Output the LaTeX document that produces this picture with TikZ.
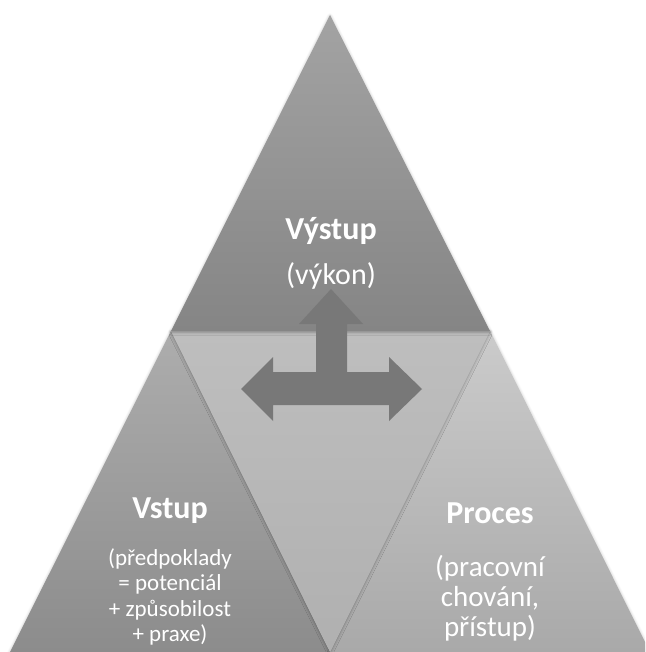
\documentclass[tikz,border=0pt]{standalone}
\usepackage{fontspec}
\setmainfont{Carlito}
\usetikzlibrary{shadows.blur}
\definecolor{topHi}{HTML}{A3A3A3}
\definecolor{topLo}{HTML}{858585}
\definecolor{leftHi}{HTML}{ADADAD}
\definecolor{leftLo}{HTML}{8C8C8C}
\definecolor{midHi}{HTML}{BEBEBE}
\definecolor{midLo}{HTML}{B0B0B0}
\definecolor{rightHi}{HTML}{CBCBCB}
\definecolor{rightLo}{HTML}{A9A9A9}
\definecolor{arrowGrey}{HTML}{787878}
\begin{document}
\begin{tikzpicture}
  [
    x=1pt, y=-1pt,
    piece/.style 2 args =
      {top color=#1, bottom color=#2,
       blur shadow={shadow xshift=0pt, shadow yshift=-1pt,
                    shadow blur radius=3pt, shadow opacity=30}},
    title/.style =
      {text=white, align=center, font=\bfseries\fontsize{32}{38}\selectfont},
    note/.style 2 args =
      {text=white, align=center, font=\fontsize{#1}{#2}\selectfont}
  ]
  \useasboundingbox (0,0) rectangle (645,652);
  \clip (0,0) rectangle (645,652);

  % the four parts of the pyramid
  \path [piece={leftHi}{leftLo}]   (171,331) -- (10,652)  -- (330,652) -- cycle;
  \path [piece={rightHi}{rightLo}] (490,331) -- (330,652) -- (650,652) -- cycle;
  \path [piece={midHi}{midLo}]     (171,331) -- (490,331) -- (330,652) -- cycle;
  \path [piece={topHi}{topLo}]     (330,15)  -- (490,331) -- (171,331) -- cycle;

  % the arrow in the middle
  \fill [arrowGrey]
    (331,289) -- (363,324) -- (347,324) -- (347,372) -- (389,372) -- (389,357)
    -- (422,389) -- (389,421) -- (389,405) -- (273,405) -- (273,421)
    -- (241,389) -- (273,357) -- (273,372) -- (316,372) -- (316,324)
    -- (299,324) -- cycle;

  \node [title, anchor=base]            at (331,239) (outT) {Výstup};
  \node [note={30}{34}, anchor=base]    at (331,284) (outN) {(výkon)};
  \node [title, anchor=base]            at (170,518) (inT)  {Vstup};
  \node [note={23}{25.5}, anchor=north] at (170,545) (inN)
    {(předpoklady\\= potenciál\\+ způsobilost\\+ praxe)};
  \node [title, anchor=base]            at (490,523) (prT)  {Proces};
  \node [note={29}{30}, anchor=north]   at (490,552) (prN)
    {(pracovní\\chování,\\přístup)};
\end{tikzpicture}
\end{document}
